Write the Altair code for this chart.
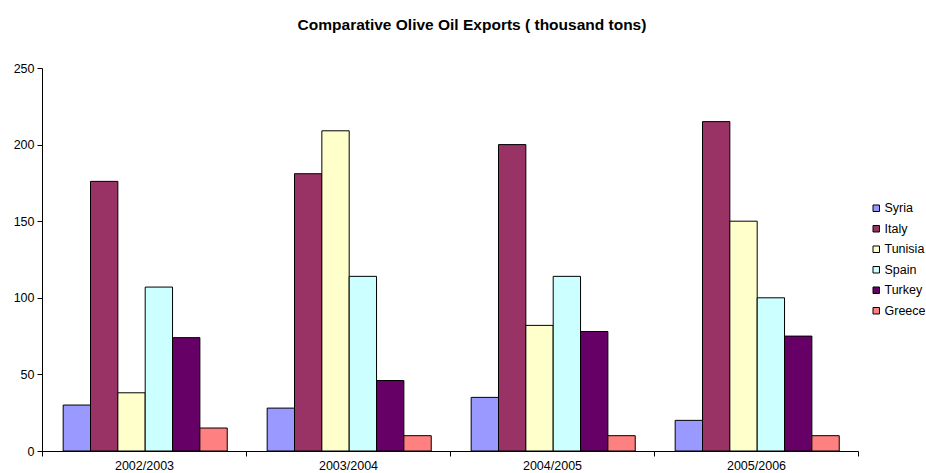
import altair as alt
import pandas as pd

# Export volumes (thousand tons) per season and country
seasons = ["2002/2003", "2003/2004", "2004/2005", "2005/2006"]
countries = ["Syria", "Italy", "Tunisia", "Spain", "Turkey", "Greece"]
syria = [30, 28, 35, 20]
italy = [176, 181, 200, 215]
tunisia = [38, 209, 82, 150]
spain = [107, 114, 114, 100]
turkey = [74, 46, 78, 75]
greece = [15, 10, 10, 10]
colors = ["#9999FF", "#993366", "#FFFFCC", "#CCFFFF", "#660066", "#FF8080"]

series = [syria, italy, tunisia, spain, turkey, greece]
rows = []
for name, vals in zip(countries, series):
    for season, v in zip(seasons, vals):
        rows.append({"season": season, "country": name, "exports": v})
df = pd.DataFrame(rows)

FONT = "Liberation Sans"

chart = (
    alt.Chart(df)
    .mark_bar(stroke="black", strokeWidth=1)
    .encode(
        x=alt.X(
            "season:N",
            sort=seasons,
            title=None,
            scale=alt.Scale(paddingInner=0, paddingOuter=0),
            axis=alt.Axis(
                labelAngle=0,
                tickBand="extent",
                tickSize=5,
                tickColor="black",
                domainColor="black",
                labelFont=FONT,
                labelFontSize=12.5,
                labelColor="black",
                labelPadding=3,
            ),
        ),
        xOffset=alt.XOffset(
            "country:N",
            sort=countries,
            scale=alt.Scale(paddingInner=0, paddingOuter=0.73, align=0.53),
        ),
        y=alt.Y(
            "exports:Q",
            title=None,
            scale=alt.Scale(domain=[0, 250], nice=False),
            axis=alt.Axis(
                values=[0, 50, 100, 150, 200, 250],
                grid=False,
                tickSize=5,
                tickColor="black",
                domainColor="black",
                labelFont=FONT,
                labelFontSize=12.5,
                labelColor="black",
                labelPadding=3,
            ),
        ),
        color=alt.Color(
            "country:N",
            sort=countries,
            scale=alt.Scale(domain=countries, range=colors),
            legend=alt.Legend(
                title=None,
                orient="none",
                legendX=828,
                legendY=134,
                symbolType="square",
                symbolSize=42,
                symbolStrokeColor="black",
                symbolStrokeWidth=1,
                rowPadding=7.5,
                labelFont=FONT,
                labelFontSize=12.5,
                labelColor="black",
                labelOffset=2,
            ),
        ),
    )
    .properties(
        width=816,
        height=383,
        background="white",
        padding={"left": 42, "top": 68, "right": 68, "bottom": 22},
        autosize=alt.AutoSizeParams(type="none"),
        title=alt.TitleParams(
            "Comparative Olive Oil Exports ( thousand tons)",
            font=FONT,
            fontSize=15.5,
            fontWeight="bold",
            color="black",
            anchor="middle",
            dx=22,
            offset=29,
        ),
    )
    .configure_view(stroke=None, strokeWidth=0)
)

chart.save("out.html", embed_options={"renderer": "svg", "actions": False})
